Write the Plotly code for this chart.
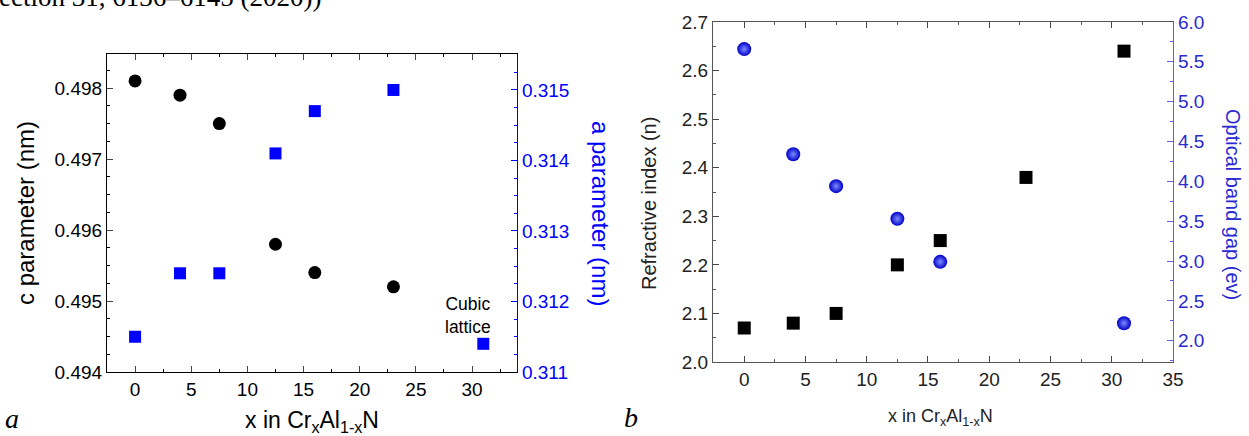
import plotly.graph_objects as go

# ---- Panel a data ----
xa_c = [0, 4, 7.5, 12.5, 16, 23]
c_param = [0.4981, 0.4979, 0.4975, 0.4958, 0.4954, 0.4952]
xa_a = [0, 4, 7.5, 12.5, 16, 23, 31]
a_param = [0.3115, 0.3124, 0.3124, 0.3141, 0.3147, 0.3150, 0.3114]

# ---- Panel b data ----
xb_n = [0, 4, 7.5, 12.5, 16, 23, 31]
refr_index = [2.07, 2.08, 2.10, 2.20, 2.25, 2.38, 2.64]
xb_g = [0, 4, 7.5, 12.5, 16, 31]
band_gap = [5.66, 4.34, 3.94, 3.53, 2.99, 2.22]

W, H = 1249, 436
FONT = "Liberation Sans, Arial, sans-serif"
SERIF = "Liberation Serif, Times New Roman, serif"
BLUE_A = "#0000ff"
BLUE_B = "#2a2ad0"
GRAY = "#555555"

def px(x):
    return x / W

def py(y):
    return 1 - y / H

fig = go.Figure()

fig.add_trace(go.Scatter(x=xa_c, y=c_param, mode="markers", xaxis="x", yaxis="y",
                         marker=dict(symbol="circle", size=13, color="black"),
                         showlegend=False))
fig.add_trace(go.Scatter(x=xa_a, y=a_param, mode="markers", xaxis="x", yaxis="y2",
                         marker=dict(symbol="square", size=12, color=BLUE_A),
                         showlegend=False))
fig.add_trace(go.Scatter(x=xb_n, y=refr_index, mode="markers", xaxis="x2", yaxis="y3",
                         marker=dict(symbol="square", size=13, color="black"),
                         showlegend=False))
fig.add_trace(go.Scatter(x=xb_g, y=band_gap, mode="markers", xaxis="x2", yaxis="y4",
                         marker=dict(symbol="circle", size=14, color="#0000c8",
                                     line=dict(width=0),
                                     gradient=dict(type="radial", color="#7d8cff")),
                         showlegend=False))

tickfont_a = dict(family=FONT, size=19, color="black")
tickfont_b = dict(family=FONT, size=19, color="#222222")

common_ax = dict(showgrid=False, zeroline=False, showline=True, ticks="inside")

fig.update_layout(
    width=W, height=H,
    margin=dict(l=0, r=0, t=0, b=0, autoexpand=False),
    paper_bgcolor="white", plot_bgcolor="white",
    font=dict(family=FONT),
    xaxis=dict(**common_ax, domain=[px(107), px(517)], range=[-2.5, 34],
               dtick=5, tick0=0, ticklen=6, linecolor="black", linewidth=1.2,
               mirror="ticks", anchor="y", tickfont=tickfont_a,
               minor=dict(dtick=2.5, tick0=0, ticklen=3, ticks="inside", tickcolor="black")),
    yaxis=dict(**common_ax, domain=[py(372), py(54)], range=[0.494, 0.49848],
               dtick=0.001, tick0=0.494, ticklen=6, linecolor="black", linewidth=1.2,
               anchor="x", tickfont=tickfont_a, tickformat=".3f",
               minor=dict(dtick=0.00025, tick0=0.494, ticklen=3, ticks="inside", tickcolor="black")),
    yaxis2=dict(**common_ax, domain=[py(372), py(54)], range=[0.311, 0.31551],
                overlaying="y", side="right", anchor="x",
                dtick=0.001, tick0=0.311, ticklen=6, linecolor=BLUE_A, linewidth=1.2,
                tickcolor=BLUE_A, tickformat=".3f",
                tickfont=dict(family=FONT, size=19, color=BLUE_A),
                minor=dict(dtick=0.00025, tick0=0.311, ticklen=3, ticks="inside", tickcolor=BLUE_A)),
    xaxis2=dict(**common_ax, domain=[px(713), px(1173)], range=[-2.55, 35],
                dtick=5, tick0=0, ticklen=6, linecolor=GRAY, linewidth=1.2,
                mirror="ticks", anchor="y3", tickfont=tickfont_b,
                minor=dict(dtick=2.5, tick0=0, ticklen=3, ticks="inside", tickcolor=GRAY)),
    yaxis3=dict(**common_ax, domain=[py(362), py(22)], range=[2.0, 2.7],
                dtick=0.1, tick0=2.0, ticklen=6, linecolor=GRAY, linewidth=1.2,
                anchor="x2", tickfont=tickfont_b, tickformat=".1f",
                minor=dict(dtick=0.05, tick0=2.0, ticklen=3, ticks="inside", tickcolor=GRAY)),
    yaxis4=dict(**common_ax, domain=[py(362), py(22)], range=[1.733, 6.0],
                overlaying="y3", side="right", anchor="x2",
                dtick=0.5, tick0=2.0, ticklen=6, linecolor="#6060e0", linewidth=1.2,
                tickcolor="#6060e0", tickformat=".1f",
                tickfont=dict(family=FONT, size=19, color=BLUE_B),
                minor=dict(dtick=0.25, tick0=2.0, ticklen=3, ticks="inside", tickcolor="#6060e0")),
)

XTITLE = "x in Cr<sub>x</sub>Al<sub>1-x</sub>N"

def note(text, x, y, size, color="black", family=FONT, angle=0,
         xanchor="center", yanchor="middle", xref="paper", yref="paper"):
    return dict(text=text, x=x, y=y, xref=xref, yref=yref, textangle=angle,
                xanchor=xanchor, yanchor=yanchor, showarrow=False,
                font=dict(family=family, size=size, color=color))

annotations = [
    # axis titles
    note("c parameter (nm)", px(25), py(213), 24, angle=-90),
    note("a parameter (nm)", px(601), py(213), 24, color=BLUE_A, angle=90),
    note(XTITLE, px(312), py(421), 23),
    note("Refractive index (n)", px(649), py(204), 20, color="#222222", angle=-90),
    note("Optical band gap (ev)", px(1233), py(204), 20, color=BLUE_B, angle=90),
    note(XTITLE, px(940), py(417), 18, color="#222222"),
    # in-plot label
    dict(text="Cubic<br>lattice", x=29.6, y=0.4948, xref="x", yref="y", showarrow=False,
         xanchor="center", yanchor="middle", align="center",
         font=dict(family=FONT, size=17.5, color="black")),
    # panel letters
    note("<i>a</i>", px(12), py(418), 28, family=SERIF),
    note("<i>b</i>", px(631), py(417), 28, family=SERIF),
    # caption fragment at the top (cut off by the page edge, as in the source)
    note("ection 31, 6136–6145 (2020))", px(-3), py(14), 27, family=SERIF,
         xanchor="left", yanchor="bottom"),
]
fig.update_layout(annotations=annotations)

fig.write_html(
    "out.html",
    config={"displayModeBar": False},
    post_script="document.body.style.margin='0px';document.body.style.overflow='hidden';",
)
